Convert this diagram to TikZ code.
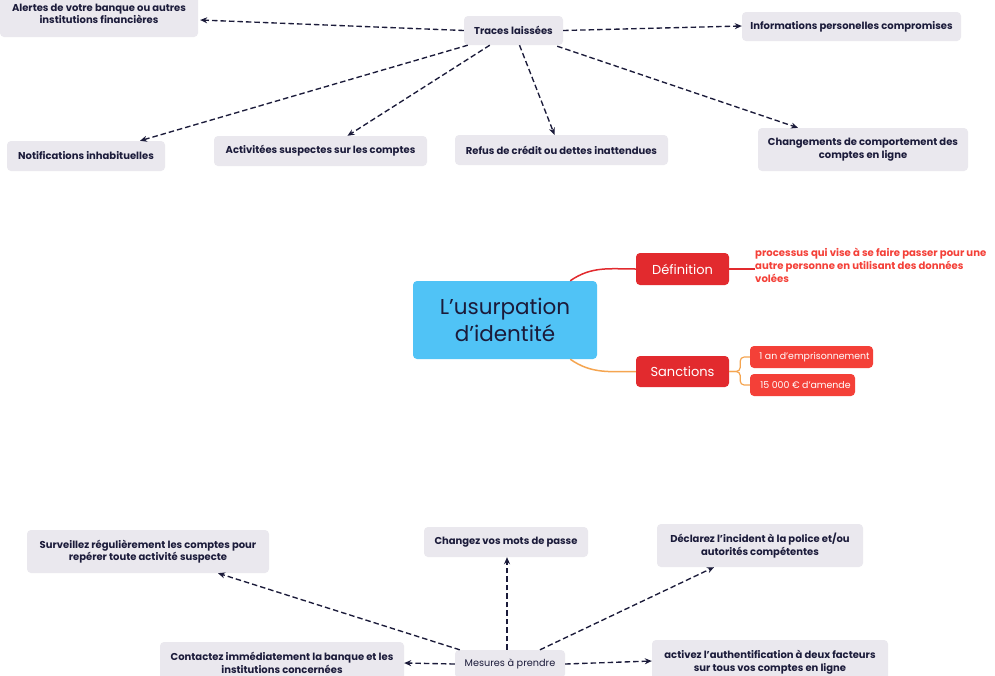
\documentclass[tikz,border=0pt]{standalone}
\usepackage{fontspec}
\setmainfont{Poppins}
\usetikzlibrary{arrows.meta,calc}
\definecolor{boxgray}{RGB}{234,232,238}
\definecolor{navy}{RGB}{27,27,58}
\definecolor{cblue}{RGB}{80,195,246}
\definecolor{dred}{RGB}{226,42,46}
\definecolor{lred}{RGB}{244,64,56}
\definecolor{orng}{RGB}{245,165,80}
\tikzset{
  gbox/.style={fill=boxgray, rounded corners=4pt, text=navy, font=\fontsize{10}{12.5}\selectfont\bfseries, align=center, inner sep=0pt},
  dbox/.style={fill=dred, rounded corners=4pt, text=white, font=\fontsize{13}{15}\selectfont, align=center, inner sep=0pt, minimum width=93pt},
  lbox/.style={fill=lred, rounded corners=4pt, text=white, font=\fontsize{9.4}{11}\selectfont, align=left, inner sep=0pt, minimum height=22pt},
  darr/.style={draw=navy, line width=1.35pt, dash pattern=on 5.5pt off 3pt, -{Stealth[length=7pt,width=6pt]}}
}
\begin{document}
\begin{tikzpicture}[x=1pt,y=-1pt]
\useasboundingbox[fill=white] (0,0) rectangle (995,675);
% top cluster
\node[gbox, minimum width=198pt, minimum height=46pt] (alertes) at (99,14) {Alertes de votre banque ou autres\\institutions financières};
\node[gbox, minimum width=99pt, minimum height=29pt] (traces) at (513.5,30.5) {Traces laissées};
\node[gbox, minimum width=219pt, minimum height=29pt] (infos) at (851.5,26.5) {Informations personelles compromises};
\node[gbox, minimum width=158pt, minimum height=30pt] (notif) at (86,156) {Notifications inhabituelles};
\node[gbox, minimum width=213pt, minimum height=30pt] (activ) at (320.5,151) {Activitées suspectes sur les comptes};
\node[gbox, minimum width=213pt, minimum height=30pt] (refus) at (561.5,150) {Refus de crédit ou dettes inattendues};
\node[gbox, minimum width=210pt, minimum height=43pt] (chang) at (863,149.5) {Changements de comportement des\\comptes en ligne};
\draw[darr] (traces.west) -- ([xshift=2pt,yshift=-6pt]alertes.east);
\draw[darr] (traces.east) -- ([yshift=0.5pt]infos.west);
\draw[darr] ([xshift=4pt]traces.south west) -- ([xshift=54pt]notif.north);
\draw[darr] ([xshift=26pt]traces.south west) -- ([xshift=27pt]activ.north);
\draw[darr] ([xshift=6pt]traces.south) -- ([xshift=-7pt]refus.north);
\draw[darr] ([xshift=-6pt,yshift=-1pt]traces.south east) -- ([xshift=-65pt]chang.north);
% centre
\node[fill=cblue, rounded corners=4pt, minimum width=184pt, minimum height=78pt, text=navy, align=center, font=\fontsize{21.5}{27}\selectfont, inner sep=0pt] (ctr) at (505,320) {L’usurpation\\d’identité};
\node[dbox, minimum height=32pt] (def) at (682.5,269) {Définition};
\node[dbox, minimum height=31pt] (sanc) at (682.5,371.5) {Sanctions};
\node[anchor=north west, text=lred, font=\fontsize{10.1}{13}\selectfont\bfseries, align=left, inner sep=0pt] (deftxt) at (755,248) {processus qui vise à se faire passer pour une\\autre personne en utilisant des données\\volées};
\node[lbox, minimum width=123pt] (an) at (811.5,357) {\hspace*{6pt}1 an d’emprisonnement\hfill};
\node[lbox, minimum width=105pt] (amende) at (802.5,385) {\hspace*{6pt}15 000 € d’amende\hfill};
\draw[dred, line width=1.5pt] ([xshift=-27pt]ctr.north east) to[out=35,in=180] (def.west);
\draw[orng, line width=1.5pt] ([xshift=-27pt]ctr.south east) to[out=-35,in=180] (sanc.west);
\draw[dred, line width=1.2pt] (def.east) -- (def.east -| deftxt.west);
\draw[orng, line width=1.2pt, rounded corners=4pt] (sanc.east) -- ++(11,0) |- (an.west);
\draw[orng, line width=1.2pt, rounded corners=4pt] (sanc.east) -- ++(11,0) |- (amende.west);
% bottom cluster
\node[gbox, minimum width=242pt, minimum height=43pt] (surv) at (148,551.5) {Surveillez régulièrement les comptes pour\\repérer toute activité suspecte};
\node[gbox, minimum width=164pt, minimum height=30pt] (chg) at (506,542) {Changez vos mots de passe};
\node[gbox, minimum width=206pt, minimum height=43pt] (decl) at (760,545.5) {Déclarez l’incident à la police et/ou\\autorités compétentes};
\node[gbox, minimum width=244pt, minimum height=42pt] (cont) at (282,663) {Contactez immédiatement la banque et les\\institutions concernées};
\node[gbox, minimum width=110pt, minimum height=28pt, font=\fontsize{9.7}{12}\selectfont] (mes) at (510,664) {Mesures à prendre};
\node[gbox, minimum width=236pt, minimum height=44pt] (actv) at (770,662) {activez l’authentification à deux facteurs\\sur tous vos comptes en ligne};
\draw[darr] ([xshift=5pt]mes.north west) -- ([xshift=70pt]surv.south);
\draw[darr] ([xshift=-3pt]mes.north) -- ([xshift=1pt]chg.south);
\draw[darr] ([xshift=30pt]mes.north) -- ([xshift=-46pt]decl.south);
\draw[darr] (mes.west) -- ([yshift=0pt]cont.east);
\draw[darr] (mes.east) -- ([yshift=1pt]actv.west);
\end{tikzpicture}
\end{document}
